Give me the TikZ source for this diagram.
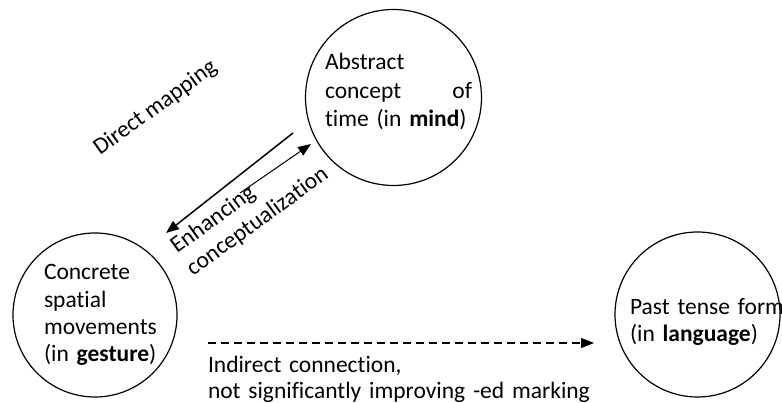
\documentclass[tikz,border=0pt]{standalone}
\usepackage{fontspec}
\setmainfont{Carlito}[Ligatures={NoCommon}]
\usetikzlibrary{arrows.meta}
\begin{document}
\begin{tikzpicture}[x=1pt,y=-1pt,
  every node/.style={font=\fontsize{23.5}{27}\selectfont},
  bubble/.style={draw,circle,line width=1.2pt,inner sep=0pt},
  lbl/.style={inner sep=0pt,outer sep=0pt,anchor=base west,align=left},
  tip/.style={-{Triangle[length=13pt,width=10pt]}},
]
\useasboundingbox (0,0) rectangle (782,403);
% circles
\node[bubble,minimum size=176pt] (mind) at (393.5,97.5) {};
\node[bubble,minimum size=164pt] (gesture) at (95,315) {};
\node[bubble,minimum size=165pt] (language) at (697.5,314.5) {};
% texts
\node[lbl,text width=147pt,font=\fontsize{23.5}{28.3}\selectfont] (mindtxt) at (325,70) {Abstract\\concept\hfill of\\time (in \textbf{mind})};
\node[lbl,text width=140pt,font=\fontsize{23.5}{27.2}\selectfont] (gesttxt) at (44,280) {Concrete\\spatial\\movements\\(in \textbf{gesture})};
\node[lbl,text width=170pt,font=\fontsize{23.5}{26.7}\selectfont] (langtxt) at (630,315) {Past tense form\\(in \textbf{language})};
\node[lbl,text width=440pt,font=\fontsize{23.5}{25.3}\selectfont] (indtxt) at (208,373) {Indirect connection,\\not significantly improving -ed marking};
\node[lbl,rotate=36] (dmtxt) at (100,156) {Direct mapping};
\node[lbl,rotate=36,text width=220pt,font=\fontsize{23.5}{27.5}\selectfont] (ectxt) at (177,254) {Enhancing\\conceptualization};
% connector end points
\coordinate (dmS) at (293,133);
\coordinate (dmE) at (166,233);
\coordinate (ecS) at (240,193);
\coordinate (ecE) at (311,144);
\coordinate (inS) at (208,343);
\coordinate (inE) at (594,343);
% connectors
\draw[tip,line width=1.5pt] (dmS) -- (dmE);
\draw[tip,line width=1pt] (ecS) -- (ecE);
\draw[tip,line width=1.3pt,dash pattern=on 8pt off 5pt] (inS) -- (inE);
\end{tikzpicture}
\end{document}
